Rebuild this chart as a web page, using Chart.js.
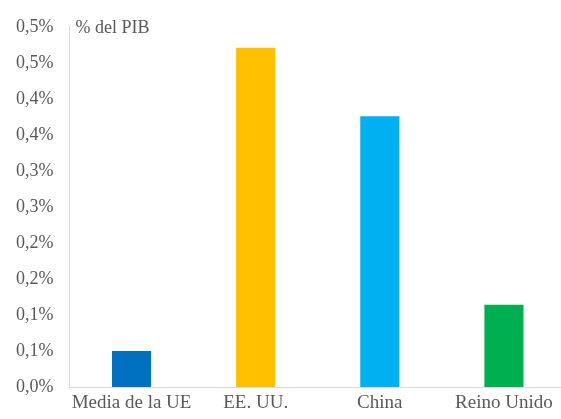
<!DOCTYPE html>
<html>
<head>
<meta charset="utf-8">
<script src="https://cdn.jsdelivr.net/npm/chart.js@4/dist/chart.umd.min.js"></script>
<style>
  html, body { margin: 0; padding: 0; background: #fff; overflow: hidden; }
  #wrap { position: relative; width: 566px; height: 419px; }
</style>
</head>
<body>
<div id="wrap"><canvas id="pibChart"></canvas></div>
<script>
// datos
const paises = ['Media de la UE', 'EE. UU.', 'China', 'Reino Unido'];
const valores = [0.050, 0.471, 0.376, 0.114];
const colores = ['#0070C0', '#FFC000', '#00B0F0', '#00B050'];
const ejeMax = 0.5;
const ejePaso = 0.05;
const unidad = '% del PIB';

const textoGris = '#595959';
const fuente = '"Liberation Serif", "Times New Roman", serif';

// etiqueta "% del PIB" arriba a la izquierda del área
const etiquetaUnidad = {
    id: 'etiquetaUnidad',
    afterDraw(chart) {
        const { ctx, chartArea } = chart;
        ctx.save();
        ctx.font = '18px ' + fuente;
        ctx.fillStyle = textoGris;
        ctx.textBaseline = 'middle';
        ctx.textAlign = 'left';
        ctx.fillText(unidad, chartArea.left + 6, chartArea.top + 1);
        ctx.restore();
    }
};

document.addEventListener('DOMContentLoaded', function () {
    if (typeof Chart === 'undefined') { console.error('Chart.js no cargó'); return; }

    new Chart(document.getElementById('pibChart').getContext('2d'), {
        type: 'bar',
        data: {
            labels: paises,
            datasets: [{
                data: valores,
                backgroundColor: colores,
                barPercentage: 0.315,
                categoryPercentage: 1.0
            }]
        },
        options: {
            responsive: true,
            maintainAspectRatio: false,
            animation: false,
            layout: { padding: { top: 18, left: 0, right: 0, bottom: 0 } },
            plugins: {
                legend: { display: false },
                tooltip: { enabled: false }
            },
            scales: {
                x: {
                    grid: { display: false, drawTicks: false },
                    border: { display: true, color: '#d9d9d9', width: 1 },
                    afterFit: function (eje) { eje.height = 32; },
                    ticks: {
                        color: textoGris,
                        font: { family: fuente, size: 19 },
                        padding: 5,
                        maxRotation: 0,
                        autoSkip: false
                    }
                },
                y: {
                    min: 0,
                    max: ejeMax,
                    grid: { display: false, drawTicks: false },
                    border: { display: true, color: '#d9d9d9', width: 1 },
                    ticks: {
                        stepSize: ejePaso,
                        color: textoGris,
                        font: { family: fuente, size: 18 },
                        padding: 16,
                        callback: function (v) {
                            return (Math.round(v * 10 + 1e-6) / 10).toFixed(1).replace('.', ',') + '%';
                        }
                    }
                }
            }
        },
        plugins: [etiquetaUnidad]
    });
});
</script>
</body>
</html>
